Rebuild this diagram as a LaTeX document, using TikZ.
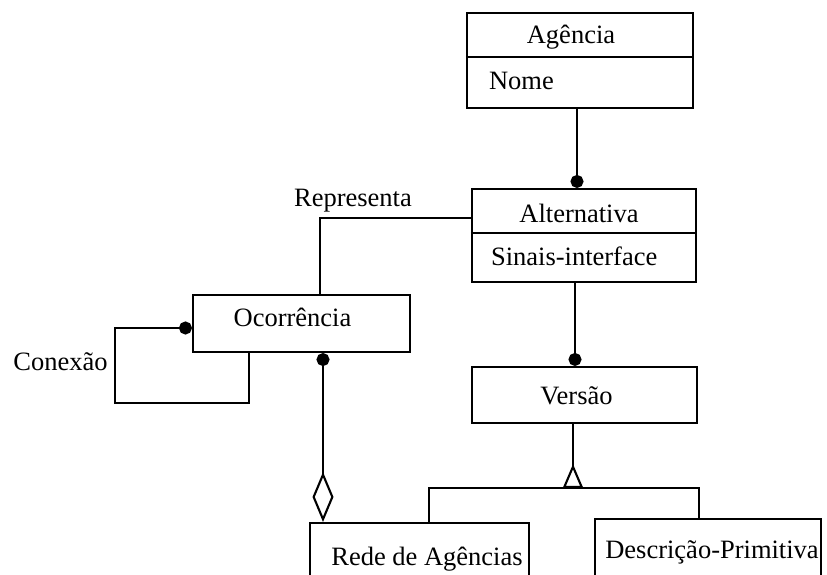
\documentclass[tikz,border=0pt]{standalone}
\usepackage{fontspec}
\setmainfont{Liberation Serif}
\usetikzlibrary{arrows.meta,calc}

\begin{document}
\begin{tikzpicture}[x=1pt,y=-1pt,line width=2.1pt,
    box/.style={draw,rectangle,inner sep=0pt},
    lbl/.style={inner sep=0pt,anchor=base,font=\fontsize{26.5}{30}\selectfont},
    dotend/.style={-{Circle[length=13pt,width=13pt]}}]
    \clip (0,0) rectangle (827,575);
    \node[box,minimum width=226pt,minimum height=95pt] (agencia) at (580,60.5) {};
    \draw ([yshift=-45pt]agencia.north west) -- ([yshift=-45pt]agencia.north east);
    \node[lbl] (agenciaName) at (571,44) {Agência};
    \node[lbl,anchor=base west] (nome) at (488,90) {Nome};
    \node[box,minimum width=224pt,minimum height=93pt] (alternativa) at (584,235.5) {};
    \draw ([yshift=-45pt]alternativa.north west) -- ([yshift=-45pt]alternativa.north east);
    \node[lbl] (alternativaName) at (579,222) {Alternativa};
    \node[lbl,anchor=base west] (sinais) at (490,265) {Sinais-interface};
    \node[box,minimum width=217pt,minimum height=57pt] (ocorrencia) at (301.5,323.5) {};
    \node[lbl] (ocorrenciaName) at (292.5,326) {Ocorrência};
    \node[box,minimum width=225pt,minimum height=56pt] (versao) at (584.5,395) {};
    \node[lbl] (versaoName) at (576.5,404) {Versão};
    \node[box,minimum width=219pt,minimum height=70pt] (rede) at (419.5,558) {};
    \node[lbl] (redeName) at (427,565) {Rede de Agências};
    \node[box,minimum width=226pt,minimum height=70pt] (descricao) at (708,554) {};
    \node[lbl] (descricaoName) at (712,558) {Descrição-Primitiva};
    \node[lbl] (representa) at (353,206) {Representa};
    \node[lbl] (conexao) at (60.5,370) {Conexão};
    \coordinate (loop) at (115,403);
    \coordinate (gen) at (573,488);
    \draw[dotend] ([xshift=-3pt]agencia.south) -- ([xshift=-3pt]agencia.south |- alternativa.north);
    \draw[dotend] ([xshift=-9pt]alternativa.south) -- ([xshift=-9pt]alternativa.south |- versao.north);
    \draw ([yshift=-30pt]alternativa.north west) -| ([xshift=18.5pt]ocorrencia.north);
    \draw[dotend] ([xshift=-52.5pt]ocorrencia.south) |- (loop) |- ([yshift=-4.5pt]ocorrencia.west);
    \draw[{Circle[length=13pt,width=13pt]}-{Diamond[open,length=50pt,width=21pt]}] ([xshift=21.5pt]ocorrencia.south) -- ([xshift=21.5pt]ocorrencia.south |- rede.north);
    \draw[-{Triangle[open,reversed,length=24pt,width=20pt]}] ([xshift=-11.5pt]versao.south) -- (gen);
    \draw ([xshift=9.5pt]rede.north) |- (gen) -| ([xshift=-9pt]descricao.north);
\end{tikzpicture}
\end{document}
